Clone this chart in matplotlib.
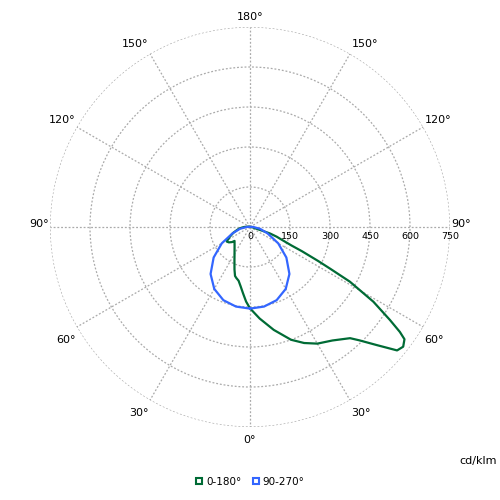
import numpy as np
import matplotlib
matplotlib.use('Agg')
import matplotlib.pyplot as plt
from matplotlib.lines import Line2D
from matplotlib.transforms import offset_copy

# luminous intensity (cd/klm), gamma in degrees
# plane C0 (right half of the green curve)
c0_gamma = [0, 6, 13, 20, 25, 30, 36, 42, 44, 47, 50, 52, 54, 55, 56.4, 58.8,
            61.3, 62.5, 63.5, 65, 66, 68, 70, 72, 73, 75, 80, 90, 100, 110, 180]
c0_val = [305, 345, 396, 450, 480, 505, 526, 561, 591, 649, 720, 729, 716, 686, 630, 541,
          427, 340, 285, 215, 170, 130, 107, 80, 50, 25, 12, 6, 2, 0, 0]
# plane C180 (left half of the green curve)
c180_gamma = [0, 3, 6, 9, 12, 15, 17, 20, 25, 30, 35, 40, 45, 48, 50, 54, 58,
              64, 71, 78, 83, 90, 100, 110, 120, 180]
c180_val = [305, 280, 250, 225, 206, 198, 192, 170, 138, 116, 101, 90, 82, 78, 88, 98, 103,
            85, 66, 48, 38, 22, 8, 3, 0, 0]
# planes C90 / C270 (blue, symmetric)
c90_gamma = [0, 10, 20, 30, 40, 50, 60, 70, 80, 90, 100, 110, 120, 180]
c90_val = [306, 303, 292, 268, 230, 178, 122, 70, 38, 12, 4, 1, 0, 0]

r_ticks = [150, 300, 450, 600, 750]
r_labels = ['0', '150', '300', '450', '600', '750']
ang_ticks = list(range(0, 360, 30))
ang_labels = ['0°', '30°', '60°', '90°', '120°', '150°', '180°',
              '150°', '120°', '90°', '60°', '30°']

green = '#006b35'
blue = '#3366ff'


def closed_curve(g_right, v_right, g_left, v_left):
    th = list(np.deg2rad(g_right)) + list(np.deg2rad(360 - np.array(g_left[::-1])))
    r = list(v_right) + list(v_left[::-1])
    return th, r


fig = plt.figure(figsize=(5, 5), dpi=100)
ax = fig.add_axes([0.1, 0.146, 0.8, 0.8], projection='polar')
ax.set_theta_zero_location('S')
ax.set_theta_direction(1)
ax.set_ylim(0, 750)
ax.spines['polar'].set_visible(False)

ax.set_yticks(r_ticks)
ax.set_yticklabels([])
ax.set_xticks(np.deg2rad(ang_ticks))
ax.set_xticklabels([])
ax.grid(True, color='#aaaaaa', linestyle=(0, (1.5, 1.5)), linewidth=0.9)

th, r = closed_curve(c0_gamma, c0_val, c180_gamma, c180_val)
ax.plot(th, r, color=green, lw=1.6, zorder=3)
th, r = closed_curve(c90_gamma, c90_val, c90_gamma, c90_val)
ax.plot(th, r, color=blue, lw=1.6, zorder=4)

# angle labels placed around the outer ring
for a, lab in zip(ang_ticks, ang_labels):
    s = np.sin(np.deg2rad(a))
    c = np.cos(np.deg2rad(a))
    ha = 'center' if abs(s) < 0.01 else ('left' if s > 0 else 'right')
    dx = 1.5 * np.sign(s) if abs(s) > 0.01 else 0
    if c > 0.01:
        va, dy = 'top', -8
    else:
        va, dy = 'baseline', -7.5 * c
    tr = offset_copy(ax.transData, fig=fig, x=dx, y=dy, units='dots')
    ax.text(np.deg2rad(a), 750, lab, transform=tr, ha=ha, va=va, fontsize=8)

# radial labels just below the horizontal axis on the right
trans = offset_copy(ax.transData, fig=fig, x=0, y=-9.5, units='dots')
for v, lab in zip([0] + r_ticks, r_labels):
    ax.text(np.pi / 2, v, lab, transform=trans, ha='center', va='center', fontsize=6.8)

fig.text(0.994, 0.078, 'cd/klm', ha='right', va='center', fontsize=8)

handles = [Line2D([], [], ls='none', marker='s', markersize=5, markerfacecolor='white',
                  markeredgecolor=green, markeredgewidth=1.5, label='0-180°'),
           Line2D([], [], ls='none', marker='s', markersize=5, markerfacecolor='white',
                  markeredgecolor=blue, markeredgewidth=1.5, label='90-270°')]
fig.legend(handles=handles, loc='center', bbox_to_anchor=(0.499, 0.036), ncol=2,
           frameon=False, fontsize=7.5, handletextpad=0.2, columnspacing=0.8,
           handlelength=1)

fig.savefig('out.png', dpi=100)
